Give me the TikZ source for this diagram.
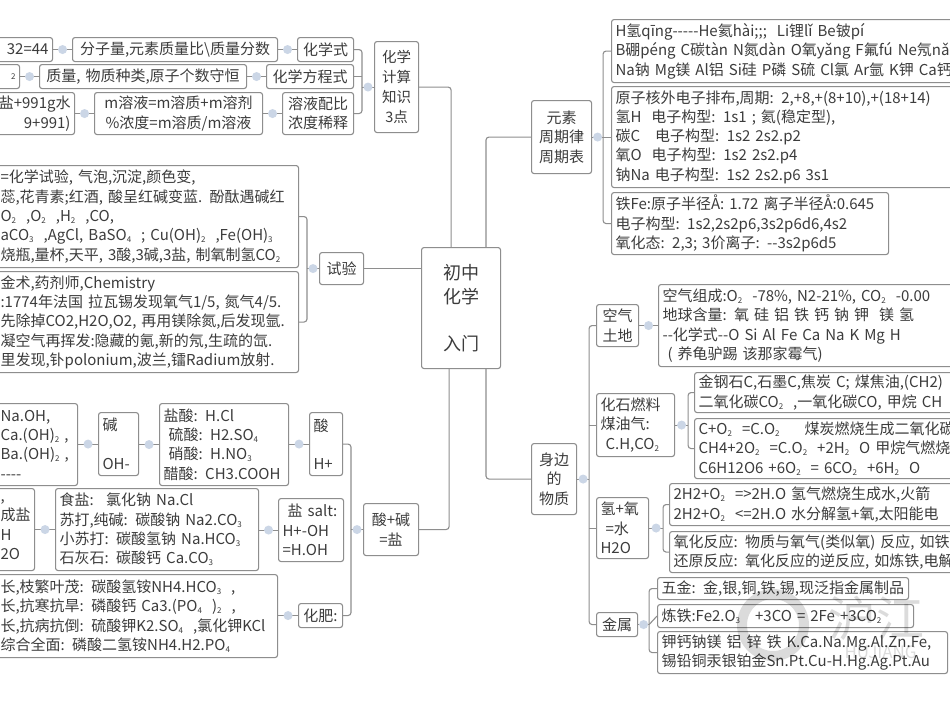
\documentclass[tikz,border=0pt]{standalone}
\usepackage{fontspec}
\setmainfont{Noto Sans CJK SC}
\usetikzlibrary{calc}
\definecolor{ln}{HTML}{8E8E8E}
\definecolor{tx}{HTML}{3C3C3C}
\definecolor{blob}{HTML}{CBD6E6}
\newcommand{\su}[1]{\raisebox{-0.25ex}{\fontsize{8}{8}\selectfont #1}}
\newcommand{\bl}{\mbox{}}
\tikzset{
  box/.style={draw=ln,line width=1.1pt,rounded corners=2.5pt,fill=white,text=tx,inner xsep=4pt,inner ysep=0pt,anchor=north west,align=left,font=\fontsize{15}{19.3}\selectfont},
  mid/.style={align=center},
  link/.style={draw=ln,line width=1.1pt,rounded corners=3pt},
  dotb/.style={circle,fill=blob,draw=none,inner sep=0pt,minimum size=9pt}
}
\newcommand{\bx}[6][]{%
  \pgfmathsetlengthmacro{\bw}{#4-#2}%
  \pgfmathsetlengthmacro{\bh}{#5-#3}%
  \pgfmathsetlengthmacro{\tw}{#4-#2-8}%
  \node[box,minimum width=\bw,minimum height=\bh,text width=\tw,#1] (#6) at (#2,#3)}
\begin{document}
\begin{tikzpicture}[x=1pt,y=-1pt]
\useasboundingbox (0,0) rectangle (950,713);
\clip (0,0) rectangle (950,713);
\fill[white] (0,0) rectangle (950,713);

% root
\bx[mid,font=\fontsize{18}{23.5}\selectfont]{421}{247}{500}{368}{root}{初中\\化学\\\bl\\入门};

% top-left
\bx[align=right]{-30}{37}{52}{61}{aa}{32=44};
\bx[mid]{72}{37}{277}{61}{ab}{分子量,元素质量比\textbackslash 质量分数};
\bx[mid]{297}{37}{353}{61}{ac}{化学式};
\bx[align=right]{-30}{64}{19}{88}{ba}{\su{2}};
\bx[mid]{39}{64}{246}{88}{bb}{质量, 物质种类,原子个数守恒};
\bx[mid]{266}{64}{353}{88}{bc}{化学方程式};
\bx[align=right]{-30}{92}{74}{134}{ca}{盐+991g水\\9+991)\hspace{16pt}};
\bx[mid]{94}{92}{262}{134}{cb}{m溶液=m溶质+m溶剂\\\%浓度=m溶质/m溶液};
\bx[mid]{282}{92}{353}{134}{cc}{溶液配比\\浓度稀释};
\bx[mid,font=\fontsize{14.5}{20}\selectfont]{374}{41}{418}{132}{calc}{化学\\计算\\知识\\3点};

% experiment
\bx{-4}{165}{298}{267}{ta}{=化学试验, 气泡,沉淀,颜色变,\\蕊,花青素;红酒, 酸呈红碱变蓝. 酚酞遇碱红\\O\su{2}\ \ ,O\su{2}\ \ ,H\su{2}\ \ ,CO,\\aCO\su{3}\ \ ,AgCl, BaSO\su{4}\ \ ; Cu(OH)\su{2}\ \ ,Fe(OH)\su{3}\\烧瓶,量杯,天平, 3酸,3碱,3盐, 制氧制氢CO\su{2}};
\bx{-4}{271}{298}{372}{tb}{金术,药剂师,Chemistry\\:1774年法国 拉瓦锡发现氧气1/5, 氮气4/5.\\先除掉CO2,H2O,O2, 再用镁除氮,后发现氩.\\凝空气再挥发:隐藏的氪,新的氖,生疏的氙.\\里发现,钋polonium,波兰,镭Radium放射.};
\bx[mid]{319}{252}{363}{284}{test}{试验};

% acid + base
\bx{-4}{403}{77}{485}{na}{Na.OH,\\\mbox{Ca.(OH)\su{2}\ ,}\\\mbox{Ba.(OH)\su{2}\ ,}\\-{}-{}-{}-};
\bx{98}{412}{138}{475}{nb}{碱\\\bl\\OH-};
\bx{159}{403}{288}{485}{nc}{盐酸: H.Cl\\\ 硫酸: H2.SO\su{4}\\\ 硝酸: H.NO\su{3}\\醋酸: CH3.COOH};
\bx{309}{412}{342}{475}{nd}{酸\\\bl\\H+};
\bx{-4}{488}{34}{570}{sa}{,\\成盐\\H\\2O};
\bx{55}{488}{258}{570}{sb}{食盐: \ 氯化钠 Na.Cl\\苏打,纯碱: 碳酸钠 Na2.CO\su{3}\\小苏打: 碳酸氢钠 Na.HCO\su{3}\\石灰石: 碳酸钙 Ca.CO\su{3}};
\bx{278}{498}{343}{561}{sc}{\ 盐 salt:\\H+-OH\\=H.OH};
\bx{-4}{574}{277}{657}{fa}{长,枝繁叶茂: 碳酸氢铵NH4.HCO\su{3}\ \ ,\\长,抗寒抗旱: 磷酸钙 Ca3.(PO\su{4}\ \ )\su{2}\ \ ,\\长,抗病抗倒: 硫酸钾K2.SO\su{4}\ \ ,氯化钾KCl\\综合全面: 磷酸二氢铵NH4.H2.PO\su{4}};
\bx[mid]{298}{603}{342}{627}{fb}{化肥:};
\bx[mid]{363}{503}{418}{555}{ab2}{酸+碱\\=盐};

% periodic table
\bx{611}{19}{1100}{82}{ea}{H氢qīng-{}-{}-{}-{}-He氦hài;;; \ Li锂lǐ Be铍pí\\B硼péng C碳tàn N氮dàn O氧yǎng F氟fú Ne氖nǎi\\Na钠 Mg镁 Al铝 Si硅 P磷 S硫 Cl氯 Ar氩 K钾 Ca钙};
\bx{611}{86}{1100}{187}{eb}{原子核外电子排布,周期: 2,+8,+(8+10),+(18+14)\\氢H \ 电子构型: 1s1 ; 氦(稳定型),\\碳C \ \ 电子构型: 1s2 2s2.p2\\氧O \ 电子构型: 1s2 2s2.p4\\钠Na 电子构型: 1s2 2s2.p6 3s1};
\bx{611}{192}{888}{254}{ec}{铁Fe:原子半径Å: 1.72 离子半径Å:0.645\\电子构型: 1s2,2s2p6,3s2p6d6,4s2\\氧化态: 2,3; 3价离子: -{}-3s2p6d5};
\bx[mid]{531}{100}{591}{173}{elem}{元素\\周期律\\周期表};

% daily substances
\bx[mid]{531}{443}{576}{514}{life}{身边\\的\\物质};
\bx[mid]{596}{304}{638}{346}{air}{空气\\土地};
\bx{658}{284}{1100}{366}{aira}{空气组成:O\su{2}\ \ -78\%, N2-21\%, CO\su{2}\ \ -0.00\\地球含量: 氧 硅 铝 铁 钙 钠 钾 \ 镁 氢\\-{}-化学式-{}-O Si Al Fe Ca Na K Mg H\\\ ( 养龟驴踢 该那家霉气)};
\bx{596}{393}{674}{456}{fos}{化石燃料\\煤油气:\\\ C.H,CO\su{2}};
\bx{694}{372}{1100}{412}{fosa}{金钢石C,石墨C,焦炭 C; 煤焦油,(CH2)\\二氧化碳CO\su{2}\ \ ,一氧化碳CO, 甲烷 CH};
\bx{694}{418}{1100}{478}{fosb}{C+O\su{2}\ \ =C.O\su{2}\ \ \ \ \ 煤炭燃烧生成二氧化碳\\CH4+2O\su{2}\ \ =C.O\su{2}\ \ +2H\su{2}\ \ O 甲烷气燃烧\\C6H12O6 +6O\su{2}\ \ = 6CO\su{2}\ \ +6H\su{2}\ \ O};
\bx{596}{497}{648}{558}{wat}{氢+氧\\\ =水\\H2O};
\bx{669}{483}{1100}{525}{wata}{2H2+O\su{2}\ \ =>2H.O 氢气燃烧生成水,火箭\\2H2+O\su{2}\ \ <=2H.O 水分解氢+氧,太阳能电};
\bx{669}{531}{1100}{572}{watb}{氧化反应: 物质与氧气(类似氧) 反应, 如铁\\还原反应: 氧化反应的逆反应, 如炼铁,电解};
\bx[mid]{596}{612}{637}{636}{met}{金属};
\bx{657}{577}{908}{599}{meta}{五金: 金,银,铜,铁,锡,现泛指金属制品};
\bx{657}{604}{913}{627}{metb}{炼铁:Fe2.O\su{3}\ \ \ +3CO = 2Fe +3CO\su{2}};
\bx{657}{631}{947}{673}{metc}{钾钙钠镁 铝 锌 铁 K.Ca.Na.Mg.Al.Zn.Fe,\\锡铅铜汞银铂金Sn.Pt.Cu-H.Hg.Ag.Pt.Au};

% root links
\draw[link] (calc.east) -- ++(32,0) coordinate (k1) -- (k1 |- root.north);
\draw[link] (test.east) -- (root.west |- test.east);
\draw[link] (ab2.east) -- ++(30,0) coordinate (k2) -- (k2 |- root.south);
\draw[link] (elem.west) -- ++(-45,0) coordinate (k3) -- (k3 |- root.north);
\draw[link] (life.west) -- ++(-45,0) coordinate (k4) -- (k4 |- root.south);

% chains
\draw[link] (ab) -- node[dotb,pos=.5] (d1) {} (aa);
\draw[link] (ac) -- node[dotb,pos=.5] (d2) {} (ab);
\draw[link] (bb) -- node[dotb,pos=.5] (d3) {} (ba);
\draw[link] (bc) -- node[dotb,pos=.5] (d4) {} (bb);
\draw[link] (cb) -- node[dotb,pos=.5] (d5) {} (ca);
\draw[link] (cc) -- node[dotb,pos=.5] (d6) {} (cb);
\draw[link] (calc.west) -- node[dotb,pos=.5] (d7) {} ++(-12,0) coordinate (k5);
\draw[link] (ac.east) -| (k5) |- (cc.east);
\draw[link] (bc.east) -- (bc.east -| k5);

\draw[link] (test.west) -- node[dotb,pos=.5] (d8) {} ++(-12,0) coordinate (k6);
\draw[link] (ta.east) -| (k6) |- (tb.east);

\draw[link] (nb.west) -- node[dotb,pos=.5] (d9) {} (na.east |- nb.west);
\draw[link] (nc.west) -- node[dotb,pos=.5] (d10) {} (nb.east |- nc.west);
\draw[link] (nd.west) -- node[dotb,pos=.5] (d11) {} (nc.east |- nd.west);
\draw[link] (sb.west) -- node[dotb,pos=.5] (d12) {} (sa.east |- sb.west);
\draw[link] (sc.west) -- node[dotb,pos=.5] (d13) {} (sb.east |- sc.west);
\draw[link] (fb.west) -- node[dotb,pos=.5] (d14) {} (fa.east |- fb.west);
\draw[link] (ab2.west) -- node[dotb,pos=.5] (d15) {} ++(-12,0) coordinate (k7);
\draw[link] (nd.east) -| (k7) |- (fb.east);

\draw[link] (elem.east) -- node[dotb,pos=.5] (d16) {} ++(11,0) coordinate (k8);
\draw[link] (k8) -- (eb.west |- k8);
\draw[link] (ea.west) -| (k8) |- (ec.west);

\draw[link] (life.east) -- node[dotb,pos=.5] (d17) {} ++(12,0) coordinate (k10);
\draw[link] (air.west) -| (k10) |- (met.west);
\draw[link] (k10 |- fos.west) -- (fos.west);
\draw[link] (k10 |- wat.west) -- (wat.west);

\draw[link] (aira.west |- air.east) -- node[dotb,pos=.5] (d18) {} (air.east);
\draw[link] (fos.east) -- node[dotb,pos=.5] (d19) {} ++(13,0) coordinate (k11);
\draw[link] (fosa.west) -| (k11) |- (fosb.west);
\draw[link] (wat.east) -- node[dotb,pos=.5] (d20) {} ++(14,0) coordinate (k12);
\draw[link] (wata.west) -| (k12) |- (watb.west);
\draw[link] (met.east) -- node[dotb,pos=.5] (d21) {} ++(11,0) coordinate (k13);
\draw[link] (meta.west) -| (k13) |- (metc.west);
\draw[link] (k13) -- (metb.west);

% watermark
\node[draw=black,line width=10pt,circle,minimum size=62pt,opacity=.14,inner sep=0pt] (wm) at (773,625) {};
\node[text=black,opacity=.14,font=\fontsize{48}{48}\selectfont,anchor=west] (wmb) at (825,618) {沪江};
\node[text=black,opacity=.14,font=\fontsize{17}{17}\selectfont,anchor=west] (wmc) at (841,652) {HUJIANG};
\end{tikzpicture}
\end{document}
